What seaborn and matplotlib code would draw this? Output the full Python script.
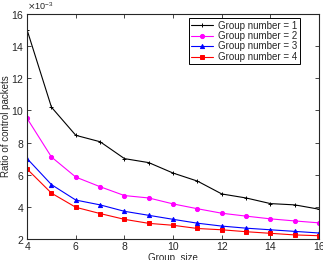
import matplotlib
matplotlib.use("Agg")
import matplotlib.pyplot as plt
import seaborn as sns
import pandas as pd

# group sizes on the x axis
group_size = list(range(4, 17))

# ratio of control packets (x 1e-3) per group number
g1 = [15.0, 10.2, 8.45, 8.05, 7.0, 6.75, 6.1, 5.6, 4.8, 4.55, 4.2, 4.12, 3.85]
g2 = [9.5, 7.1, 5.85, 5.25, 4.7, 4.55, 4.18, 3.88, 3.6, 3.42, 3.25, 3.12, 3.0]
g3 = [7.0, 5.38, 4.42, 4.12, 3.72, 3.47, 3.22, 2.98, 2.8, 2.67, 2.57, 2.47, 2.37]
g4 = [6.35, 4.85, 3.97, 3.58, 3.22, 2.97, 2.85, 2.65, 2.57, 2.45, 2.35, 2.25, 2.2]

labels = ["Group number = 1", "Group number = 2", "Group number = 3", "Group number = 4"]
colors = ["black", "#ff00ff", "#0000ff", "#ff0000"]
markers = ["+", "o", "^", "s"]

sns.set_style("ticks")
plt.rcParams["font.family"] = ["Liberation Sans", "DejaVu Sans"]
plt.rcParams["xtick.direction"] = "in"
plt.rcParams["ytick.direction"] = "in"

fig = plt.figure(figsize=(3.23, 2.6), dpi=100)
ax = fig.add_axes([0.084, 0.081, 0.904, 0.865])

for lab, vals, c, m in zip(labels, [g1, g2, g3, g4], colors, markers):
    df = pd.DataFrame({"size": group_size, "ratio": [v * 1e-3 for v in vals]})
    sns.lineplot(data=df, x="size", y="ratio", color=c, marker=m, label=lab,
                 linewidth=0.8, markersize=3 if m != "+" else 3.5,
                 markeredgewidth=0.7, markeredgecolor=c, ax=ax)

ax.set_xlim(4, 16)
ax.set_ylim(2e-3, 16e-3)
ax.set_xticks([4, 6, 8, 10, 12, 14, 16])
ax.set_yticks([y * 1e-3 for y in range(2, 17, 2)])
ax.ticklabel_format(axis="y", style="sci", scilimits=(-3, -3), useMathText=True)
ax.yaxis.get_offset_text().set_fontsize(6.5)
ax.tick_params(labelsize=7.5, length=3, width=0.6, top=True, right=True, pad=2)
for s in ax.spines.values():
    s.set_linewidth(0.8)

ax.set_xlabel("Group  size", fontsize=7)
ax.xaxis.set_label_coords(0.5, -0.062)
ax.set_ylabel("Ratio of control packets", fontsize=7)
ax.yaxis.set_label_coords(-0.056, 0.5)

leg = ax.legend(loc="upper right", fontsize=7, frameon=True, fancybox=False,
                edgecolor="black", framealpha=1, borderpad=0.25, labelspacing=0.05,
                handlelength=2.2, handletextpad=0.6, borderaxespad=0,
                bbox_to_anchor=(0.935, 0.982))
leg.get_frame().set_linewidth(0.7)

fig.savefig("out.png", dpi=100)
